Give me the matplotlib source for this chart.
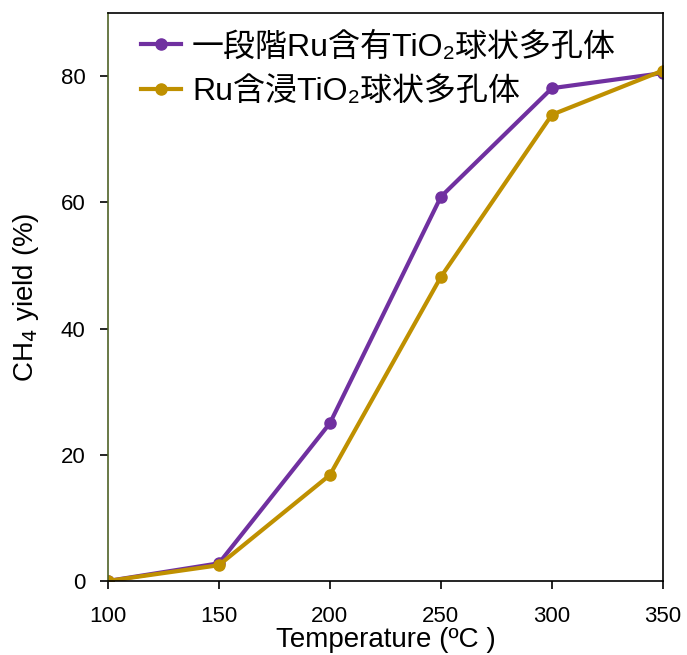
import numpy as np
import matplotlib.pyplot as plt

plt.rcParams['font.family'] = ['Liberation Sans', 'Noto Sans CJK JP', 'DejaVu Sans']

temperatura = [100, 150, 200, 250, 300, 350]
rendimiento_un_paso = [0, 2.8, 25.0, 60.9, 78.1, 80.5]
rendimiento_impregnado = [0, 2.5, 16.8, 48.2, 73.9, 80.9]
etiquetas = ['一段階Ru含有TiO₂球状多孔体', 'Ru含浸TiO₂球状多孔体']

fig = plt.figure(figsize=(6.87, 6.55), dpi=100)
ax = fig.add_axes([0.157, 0.113, 0.808, 0.867])

ax.plot(temperatura, rendimiento_un_paso, color='#7030A0', lw=3, marker='o', ms=8, label=etiquetas[0])
ax.plot(temperatura, rendimiento_impregnado, color='#BF9000', lw=3, marker='o', ms=8, label=etiquetas[1])

ax.set_xlim(100, 350)
ax.set_ylim(0, 90)
ax.set_xticks(temperatura)
ax.set_yticks([0, 20, 40, 60, 80])
ax.tick_params(labelsize=16, length=6, width=1.2)
ax.tick_params(axis='x', pad=12)
ax.tick_params(axis='y', pad=10)
ax.spines['left'].set_color('#4F6228')
for s in ax.spines.values():
    s.set_linewidth(1.2)

ax.set_xlabel('Temperature (ºC )', fontsize=20, labelpad=0)
ax.set_ylabel('CH$_4$ yield (%)', fontsize=20, labelpad=14)
ax.legend(loc='upper left', frameon=False, fontsize=23, handlelength=1.25,
          handletextpad=0.35, borderaxespad=0.2, labelspacing=0.45,
          bbox_to_anchor=(0.025, 1.0))

fig.savefig('out.png', dpi=100)
